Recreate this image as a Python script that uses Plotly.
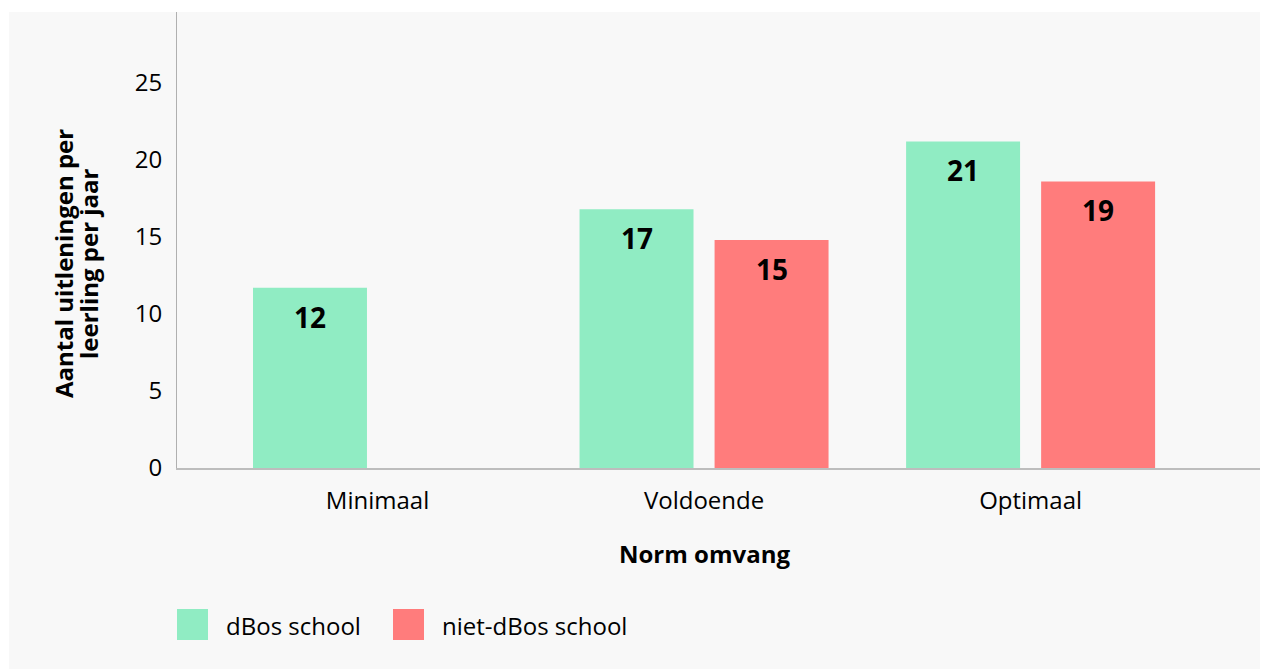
import plotly.graph_objects as go

categories = ["Minimaal", "Voldoende", "Optimaal"]
dbos_values = [11.7, 16.8, 21.2]
niet_dbos_values = [None, 14.8, 18.6]
series_names = ["dBos school", "niet-dBos school"]
y_ticks = [0, 5, 10, 15, 20, 25]

GREEN = "#90ecc3"
RED = "#ff7c7c"
BG = "#f8f8f8"
FONT = "Open Sans"

OFF = 8  # page margin of the html body
W, H = 1260, 661
L, R, T, B = 169, 0, 4, 201
PW, PH = W - L - R, H - T - B


def px(x):
    return (x - OFF - L) / PW


def py(y):
    return (H - B - (y - OFF)) / PH


fig = go.Figure()
fig.add_trace(go.Bar(x=categories, y=dbos_values, name=series_names[0],
                     marker=dict(color=GREEN, line=dict(width=0)),
                     showlegend=False, hoverinfo="x+y+name"))
fig.add_trace(go.Bar(x=categories, y=niet_dbos_values, name=series_names[1],
                     marker=dict(color=RED, line=dict(width=0)),
                     showlegend=False, hoverinfo="x+y+name"))

shapes = [
    dict(type="rect", xref="paper", yref="paper", x0=px(9), x1=1.02, y0=py(690), y1=py(12),
         fillcolor=BG, line=dict(width=0), layer="below"),
]
annotations = [
    dict(text="Norm omvang", xref="paper", yref="paper", x=px(704), y=py(553),
         showarrow=False, xanchor="center", yanchor="middle",
         font=dict(family=FONT, size=24, color="black", weight="bold")),
    dict(text="Aantal uitleningen per", xref="paper", yref="paper", x=px(64), y=py(264),
         showarrow=False, xanchor="center", yanchor="middle", textangle=-90,
         font=dict(family=FONT, size=24, color="black", weight="bold")),
    dict(text="leerling per jaar", xref="paper", yref="paper", x=px(89), y=py(264),
         showarrow=False, xanchor="center", yanchor="middle", textangle=-90,
         font=dict(family=FONT, size=24, color="black", weight="bold")),
]
# value labels inside the bars, anchored to each bar's value
for vals, shift in ((dbos_values, -67.5), (niet_dbos_values, 67.5)):
    for cat, v in zip(categories, vals):
        if v is None:
            continue
        annotations.append(dict(text=f"{round(v):d}", x=cat, y=v, xref="x", yref="y",
                                xshift=shift, yshift=-29, showarrow=False,
                                xanchor="center", yanchor="middle",
                                font=dict(family=FONT, size=28, color="black", weight="bold")))
# manual legend
leg = [(series_names[0], GREEN, 177), (series_names[1], RED, 393)]
for name, col, x0 in leg:
    shapes.append(dict(type="rect", xref="paper", yref="paper",
                       x0=px(x0), x1=px(x0 + 31), y0=py(640), y1=py(609),
                       fillcolor=col, line=dict(width=0)))
    annotations.append(dict(text=name, xref="paper", yref="paper", x=px(x0 + 47), y=py(625),
                            showarrow=False, xanchor="left", yanchor="middle",
                            font=dict(family=FONT, size=24, color="black")))

fig.update_layout(
    width=W, height=H,
    margin=dict(l=L, r=R, t=T, b=B, pad=0),
    paper_bgcolor="white",
    plot_bgcolor="rgba(0,0,0,0)",
    barmode="group",
    bargap=0.173,
    bargroupgap=0.156,
    shapes=shapes,
    annotations=annotations,
    font=dict(family=FONT, size=24, color="black"),
    xaxis=dict(range=[-0.614, 2.727], showgrid=False, zeroline=False,
               showline=True, linecolor="#bdbdbd", linewidth=2,
               ticks="outside", ticklen=10, tickcolor="rgba(0,0,0,0)",
               tickfont=dict(family=FONT, size=24, color="black")),
    yaxis=dict(range=[0, 29.6], tickvals=y_ticks, showgrid=False, zeroline=False,
               showline=True, linecolor="#b0b0b0", linewidth=1,
               ticks="outside", ticklen=9, tickcolor="rgba(0,0,0,0)",
               tickfont=dict(family=FONT, size=24, color="black")),
)

fig.write_html(
    "out.html",
    post_script="document.documentElement.style.overflow='hidden';"
                "document.body.style.overflow='hidden';",
)
